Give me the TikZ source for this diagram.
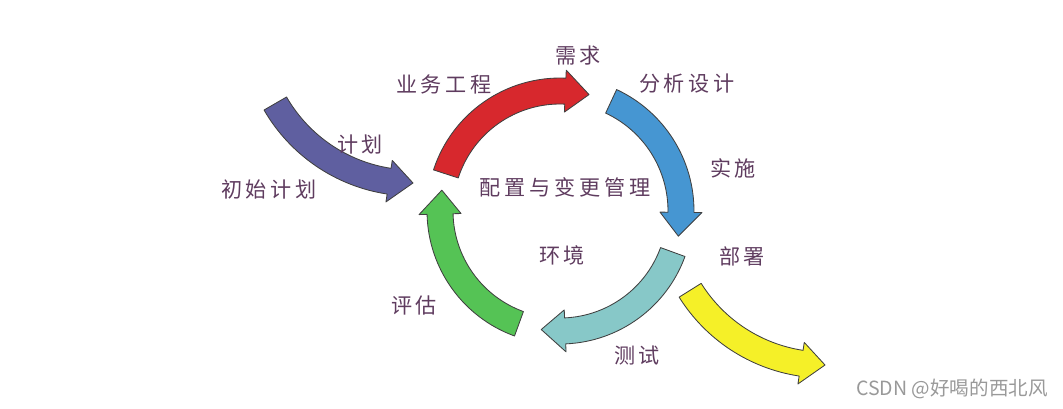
\documentclass[tikz,border=0pt]{standalone}
\usepackage{fontspec}
\setmainfont{Noto Sans CJK SC}
\newfontfamily\lblfont[LetterSpace=18]{Noto Sans CJK SC}

\definecolor{arrred}{RGB}{215,40,45}
\definecolor{arrblue}{RGB}{70,150,210}
\definecolor{arrteal}{RGB}{135,200,200}
\definecolor{arrgreen}{RGB}{85,195,85}
\definecolor{arrpurple}{RGB}{95,95,160}
\definecolor{arryellow}{RGB}{245,240,40}
\definecolor{labeltext}{RGB}{95,60,95}

% curved block arrow: colour, centre, radius, start angle, end angle
\newcommand{\cyclearrow}[5]{%
  \pgfmathsetmacro{\arHead}{#5-sign(#5-#4)*deg(24/#3)}%
  \pgfmathsetmacro{\arOut}{#3+13}%
  \pgfmathsetmacro{\arIn}{#3-13}%
  \pgfmathsetmacro{\arHOut}{#3+21}%
  \pgfmathsetmacro{\arHIn}{#3-21}%
  \filldraw[blockarrow, fill=#1, shift={#2}]
    (#4:\arOut) arc[start angle=#4, end angle=\arHead, radius=\arOut]
    -- (\arHead:\arHOut) -- (#5:#3) -- (\arHead:\arHIn) -- (\arHead:\arIn)
    arc[start angle=\arHead, end angle=#4, radius=\arIn] -- cycle;}

\begin{document}
\begin{tikzpicture}[
    x=0.025cm, y=-0.025cm,
    blockarrow/.style={draw=black!75, line width=0.6pt, line join=round},
    lbl/.style={text=labeltext, font=\lblfont\fontsize{15}{17}\selectfont, inner sep=1pt},
    watermark/.style={text=black!40, font=\fontsize{13.9}{15}\selectfont, inner sep=1pt}
]
\useasboundingbox (0,0) rectangle (1063,408);

% Kreis der Pfeile
\cyclearrow{arrred}{(560,211)}{120}{198}{284}
\cyclearrow{arrblue}{(560,211)}{121}{295}{372}
\cyclearrow{arrteal}{(560,211)}{120}{20}{99}
\cyclearrow{arrgreen}{(560,211)}{120}{110}{190}

% Pfeile aussen
\cyclearrow{arrpurple}{(413,24)}{159}{150}{90}
\cyclearrow{arryellow}{(825,206)}{159}{148}{90}

% Beschriftungen
\node[lbl] (xuqiu) at (578,56) {需求};
\node[lbl] (yewu) at (444,84) {业务工程};
\node[lbl] (fenxi) at (687,84) {分析设计};
\node[lbl] (jihua) at (360,144) {计划};
\node[lbl] (chushi) at (269,189) {初始计划};
\node[lbl] (peizhi) at (565,187) {配置与变更管理};
\node[lbl] (shishi) at (733,168) {实施};
\node[lbl] (huanjing) at (562,255) {环境};
\node[lbl] (bushu) at (742,256) {部署};
\node[lbl] (pinggu) at (414,305) {评估};
\node[lbl] (ceshi) at (637,356) {测试};

\node[watermark] (csdn) at (952,389) {CSDN @好喝的西北风};

\end{tikzpicture}
\end{document}
